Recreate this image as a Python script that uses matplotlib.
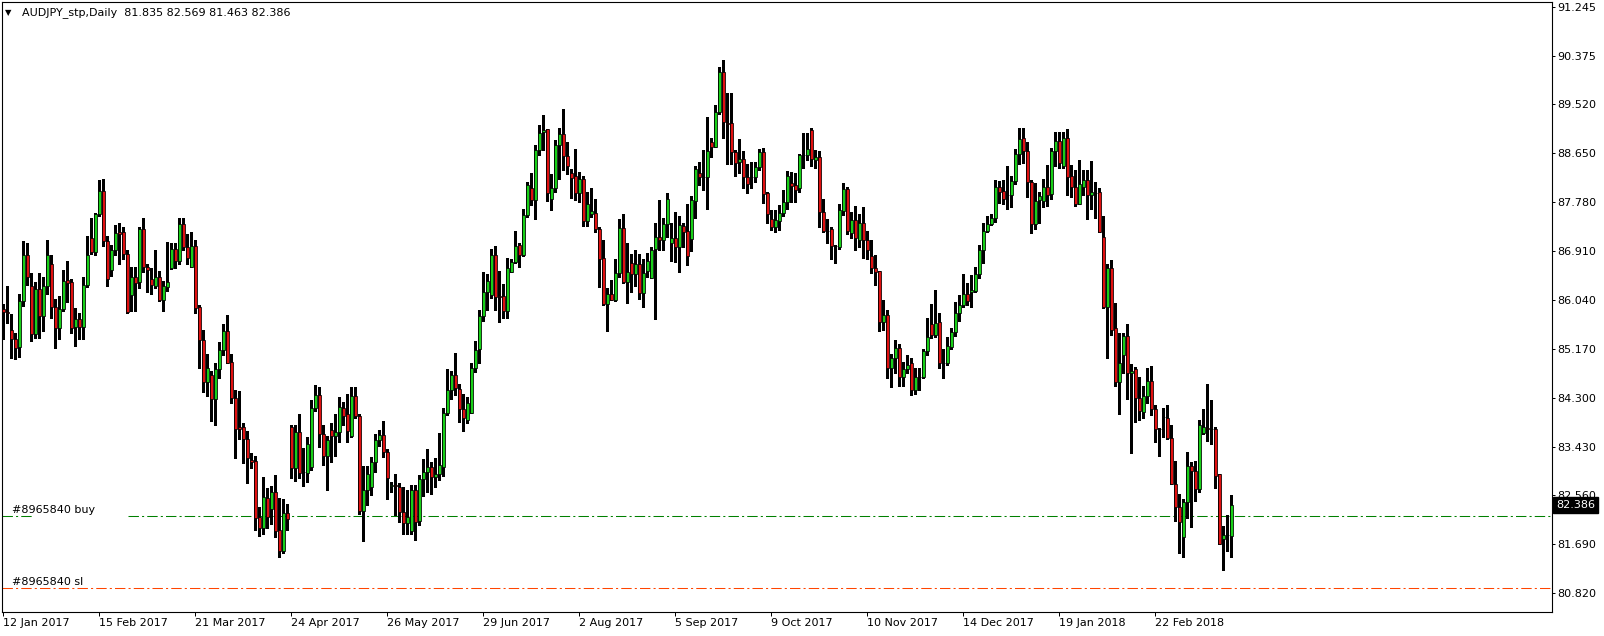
import matplotlib
matplotlib.use("Agg")
import matplotlib.pyplot as plt
import matplotlib.transforms as mtransforms
import numpy as np

plt.rcParams['font.family'] = ['DejaVu Sans']
plt.rcParams['font.size'] = 8

# Datos del gráfico (velas diarias AUDJPY)
simbolo = "AUDJPY_stp,Daily"
orden = "#8965840"

aperturas = [
    85.87, 85.82, 85.51, 85.35, 85.20, 86.01, 86.83, 86.29, 85.43, 86.23,
    85.75, 86.28, 86.68, 85.91, 85.53, 85.87, 86.39, 86.35, 85.56, 85.69,
    85.56, 86.31, 87.13, 86.88, 87.56, 87.98, 87.09, 86.56, 86.92, 87.24,
    87.24, 86.85, 86.12, 86.45, 86.35, 87.30, 86.63, 86.40, 86.29, 86.45,
    86.03, 86.26, 86.60, 86.95, 86.72, 87.38, 86.97, 86.63, 87.00, 85.91,
    85.32, 84.58, 84.70, 84.28, 84.80, 85.14, 85.49, 84.94, 84.30, 83.77,
    83.77, 83.57, 83.19, 83.18, 82.18, 81.99, 82.52, 82.32, 82.63, 81.94,
    81.57, 82.25, 83.77, 83.05, 83.68, 82.98, 82.96, 83.07, 84.12, 84.35,
    83.65, 83.26, 83.72, 83.62, 83.69, 84.12, 84.00, 83.62, 84.32, 83.98,
    82.28, 82.66, 82.71, 83.16, 83.54, 83.63, 83.34, 82.73, 82.74, 82.71,
    82.27, 82.07, 81.93, 82.65, 82.11, 82.86, 82.97, 83.06, 82.88, 82.94,
    83.07, 84.02, 84.44, 84.70, 84.46, 84.10, 83.91, 84.03, 84.82, 85.17,
    85.75, 86.17, 86.12, 86.83, 86.10, 86.10, 85.84, 86.54, 86.71, 87.01,
    86.83, 87.54, 88.02, 87.82, 88.70, 89.02, 89.07, 87.84, 88.02, 88.79,
    88.99, 88.59, 88.29, 88.24, 87.93, 88.18, 87.44, 87.57, 87.59, 87.29,
    86.79, 85.97, 86.15, 86.04, 86.52, 87.31, 86.36, 86.69, 86.50, 86.67,
    86.16, 86.55, 86.43, 86.94, 87.16, 87.10, 87.38, 87.04, 87.13, 86.98,
    87.35, 87.26, 87.12, 87.80, 88.29, 88.23, 88.22, 88.84, 88.76, 89.37,
    90.09, 89.18, 89.19, 88.67, 88.49, 88.55, 88.23, 88.22, 88.23, 88.40,
    88.66, 87.93, 87.47, 87.34, 87.44, 87.59, 87.78, 88.11, 88.08, 88.02,
    88.61, 88.62, 89.06, 88.53, 88.57, 87.60, 87.27, 87.29, 87.00, 86.98,
    87.62, 88.01, 87.22, 87.46, 87.11, 87.40, 87.11, 86.81, 86.61, 86.55,
    85.65, 85.77, 84.82, 85.01, 85.19, 84.67, 84.80, 84.92, 84.43, 84.66,
    84.67, 85.13, 85.60, 85.41, 85.64, 84.92, 84.91, 85.20, 85.46, 85.80,
    85.94, 86.15, 86.17, 86.20, 86.49, 86.92, 87.26, 87.39, 87.50, 88.04,
    87.98, 87.90, 87.90, 88.16, 88.64, 88.91, 88.68, 88.13, 87.38, 87.81,
    87.79, 88.04, 87.92, 88.68, 88.86, 88.42, 88.91, 88.24, 88.04, 87.75,
    88.05, 88.17, 87.91, 87.94, 87.95, 87.16, 85.91, 86.61, 85.53, 84.58,
    85.05, 85.39, 84.73, 84.80, 84.30, 84.05, 84.33, 84.60, 84.09, 83.75,
    83.95, 83.94, 83.59, 82.77, 82.36, 81.82, 82.45, 83.08, 82.99, 82.68,
    83.67, 83.76, 83.75, 83.75, 82.94, 81.79, 81.85, 81.835,
]
maximos = [
    85.97, 86.28, 85.78, 85.44, 86.15, 87.08, 87.05, 86.51, 86.36, 86.51,
    86.44, 87.10, 86.84, 86.05, 86.10, 86.57, 86.73, 86.41, 85.89, 85.81,
    86.45, 87.18, 87.49, 87.59, 88.17, 88.19, 87.18, 87.01, 87.36, 87.40,
    87.34, 86.92, 86.63, 86.63, 87.34, 87.49, 86.68, 86.60, 86.92, 86.55,
    86.38, 87.07, 87.04, 87.05, 87.50, 87.49, 87.21, 87.24, 87.10, 85.94,
    85.50, 85.08, 84.78, 84.91, 85.29, 85.61, 85.76, 85.07, 84.43, 84.41,
    83.85, 83.70, 83.32, 83.26, 82.36, 82.88, 82.70, 82.72, 82.93, 82.52,
    82.50, 82.41, 83.81, 83.81, 84.00, 83.41, 83.60, 84.25, 84.53, 84.49,
    83.82, 83.62, 83.84, 84.00, 84.31, 84.22, 84.37, 84.49, 84.49, 84.00,
    83.08, 83.08, 83.25, 83.66, 83.72, 83.88, 83.39, 82.80, 82.95, 82.78,
    82.71, 82.65, 82.74, 82.74, 82.93, 83.20, 83.38, 83.16, 83.23, 83.67,
    84.11, 84.81, 84.77, 85.10, 84.55, 84.36, 84.31, 84.91, 85.30, 85.85,
    86.54, 86.49, 86.94, 86.99, 86.55, 86.32, 86.79, 86.77, 87.26, 87.04,
    87.65, 88.13, 88.29, 88.79, 89.15, 89.32, 89.08, 88.27, 88.88, 89.10,
    89.43, 88.85, 88.37, 88.72, 88.32, 88.24, 87.95, 88.03, 87.84, 87.34,
    87.10, 86.24, 86.39, 86.77, 87.47, 87.56, 87.04, 86.86, 86.92, 86.86,
    86.77, 86.87, 86.98, 87.40, 87.81, 87.49, 87.93, 87.41, 87.60, 87.52,
    87.40, 87.74, 87.89, 88.42, 88.49, 88.70, 89.29, 88.91, 89.50, 90.18,
    90.31, 89.71, 89.71, 88.70, 88.89, 88.69, 88.46, 88.49, 88.49, 88.72,
    88.73, 87.96, 87.63, 87.63, 87.72, 88.00, 88.33, 88.32, 88.29, 88.64,
    89.00, 89.00, 89.09, 88.70, 88.68, 87.83, 87.47, 87.33, 87.01, 87.74,
    88.11, 88.05, 87.60, 87.71, 87.57, 87.69, 87.26, 87.10, 86.84, 86.55,
    86.03, 85.85, 85.08, 85.32, 85.26, 84.94, 85.05, 85.00, 84.82, 84.82,
    85.17, 85.71, 85.96, 86.21, 85.80, 85.17, 85.37, 85.53, 86.00, 86.12,
    86.50, 86.33, 86.48, 86.63, 87.01, 87.41, 87.52, 87.56, 88.17, 88.16,
    88.17, 88.42, 88.24, 88.72, 89.10, 89.09, 88.85, 88.17, 88.11, 87.95,
    88.18, 88.43, 88.74, 89.02, 89.03, 89.03, 89.07, 88.43, 88.35, 88.52,
    88.35, 88.35, 88.51, 88.14, 88.03, 87.53, 86.68, 86.74, 85.99, 85.44,
    85.44, 85.61, 84.89, 84.85, 84.66, 84.50, 84.82, 84.86, 84.16, 83.76,
    84.12, 84.16, 83.81, 83.17, 82.59, 82.49, 83.33, 83.16, 83.17, 83.90,
    84.10, 84.54, 84.25, 83.78, 82.95, 82.01, 82.21, 82.569,
]
minimos = [
    85.35, 85.62, 85.01, 84.99, 85.02, 85.93, 86.31, 85.31, 85.36, 85.36,
    85.49, 86.15, 85.72, 85.18, 85.34, 85.84, 86.00, 85.45, 85.22, 85.34,
    85.34, 86.27, 86.85, 86.83, 87.52, 86.99, 86.28, 86.47, 86.83, 86.68,
    86.77, 85.81, 85.84, 85.84, 86.25, 86.54, 86.18, 86.15, 86.25, 86.02,
    85.84, 86.19, 86.58, 86.61, 86.68, 86.93, 86.68, 86.62, 85.80, 84.82,
    84.40, 84.32, 83.88, 83.81, 84.65, 85.05, 84.91, 84.21, 83.22, 83.57,
    83.13, 82.78, 83.04, 81.95, 81.84, 81.88, 81.99, 82.06, 81.82, 81.47,
    81.54, 81.94, 82.87, 82.81, 82.87, 82.72, 82.80, 83.01, 84.06, 83.42,
    83.10, 82.65, 83.16, 83.26, 83.51, 83.81, 83.51, 83.60, 83.94, 82.23,
    81.75, 82.39, 82.56, 82.98, 83.44, 83.25, 82.50, 82.62, 82.21, 82.09,
    81.88, 81.88, 81.88, 81.76, 82.03, 82.55, 82.62, 82.58, 82.71, 82.83,
    82.91, 83.99, 84.28, 84.34, 83.87, 83.71, 83.85, 84.03, 84.76, 84.91,
    85.66, 85.85, 86.07, 85.85, 85.65, 85.72, 85.72, 86.54, 86.69, 86.63,
    86.82, 87.51, 87.72, 87.47, 88.61, 88.70, 87.79, 87.63, 87.96, 88.18,
    88.35, 88.27, 87.85, 87.82, 87.78, 87.35, 87.35, 87.51, 87.25, 86.27,
    85.95, 85.48, 86.03, 86.02, 86.45, 86.33, 85.99, 86.18, 86.28, 86.06,
    85.91, 86.45, 86.42, 85.69, 86.93, 86.93, 87.16, 86.73, 86.71, 86.54,
    86.98, 86.66, 86.90, 87.49, 88.08, 88.00, 87.66, 88.57, 88.76, 89.35,
    88.91, 88.46, 88.46, 88.24, 88.29, 88.02, 87.94, 88.03, 88.14, 88.35,
    87.76, 87.40, 87.28, 87.25, 87.28, 87.52, 87.65, 87.78, 87.78, 87.96,
    88.39, 88.52, 88.42, 88.39, 87.34, 87.25, 87.04, 86.77, 86.70, 86.95,
    87.55, 87.20, 87.14, 86.92, 86.97, 86.79, 86.77, 86.52, 86.30, 85.48,
    85.50, 84.64, 84.49, 84.73, 84.51, 84.51, 84.73, 84.34, 84.37, 84.43,
    84.64, 85.05, 85.36, 85.38, 84.82, 84.64, 84.88, 85.17, 85.40, 85.66,
    85.91, 85.94, 85.91, 86.17, 86.42, 86.70, 87.25, 87.37, 87.43, 87.76,
    87.75, 87.65, 87.69, 88.09, 88.45, 88.48, 87.87, 87.22, 87.29, 87.40,
    87.68, 87.71, 87.84, 88.41, 88.38, 88.38, 87.90, 87.87, 87.71, 87.75,
    87.90, 87.47, 87.65, 87.49, 87.24, 85.90, 85.00, 85.41, 84.51, 84.00,
    84.73, 84.28, 83.31, 83.86, 83.91, 83.93, 84.21, 83.99, 83.51, 83.26,
    83.60, 83.57, 82.77, 82.11, 81.54, 81.47, 82.16, 82.00, 82.47, 82.62,
    83.66, 83.53, 83.48, 82.70, 81.70, 81.24, 81.58, 81.463,
]
cierres = [
    85.82, 85.80, 85.35, 85.19, 86.01, 86.83, 86.45, 85.43, 86.23, 85.75,
    86.28, 86.83, 85.91, 85.54, 85.87, 86.38, 86.33, 85.54, 85.69, 85.56,
    86.31, 86.84, 86.88, 87.56, 87.98, 87.09, 86.41, 86.92, 87.22, 87.21,
    86.85, 85.82, 86.45, 86.33, 87.30, 86.63, 86.56, 86.31, 86.45, 86.03,
    86.28, 86.36, 86.95, 86.72, 87.38, 86.97, 86.79, 87.00, 85.90, 85.33,
    84.58, 84.83, 84.28, 84.80, 85.14, 85.49, 84.92, 84.30, 83.75, 83.75,
    83.57, 83.22, 83.16, 82.16, 81.99, 82.53, 82.18, 82.63, 81.93, 81.58,
    82.25, 82.15, 83.05, 83.68, 82.96, 82.97, 83.48, 84.12, 84.35, 83.65,
    83.26, 83.55, 83.62, 83.68, 84.14, 83.97, 83.71, 84.32, 83.97, 82.28,
    82.66, 82.95, 83.16, 83.54, 83.63, 83.33, 82.87, 82.74, 82.73, 82.27,
    82.07, 82.18, 82.65, 82.09, 82.86, 82.97, 83.06, 82.88, 82.94, 83.10,
    84.02, 84.44, 84.70, 84.47, 84.09, 83.94, 84.21, 84.82, 85.15, 85.75,
    86.17, 86.38, 86.83, 86.09, 86.09, 85.84, 86.60, 86.71, 86.99, 86.84,
    87.54, 88.08, 87.82, 88.70, 89.00, 89.06, 87.93, 88.02, 88.79, 88.99,
    88.60, 88.42, 88.21, 87.93, 88.18, 87.44, 87.75, 87.61, 87.29, 86.77,
    85.97, 86.15, 86.04, 86.52, 87.31, 86.36, 86.54, 86.50, 86.67, 86.16,
    86.52, 86.73, 86.92, 87.16, 87.10, 87.38, 87.84, 87.13, 86.98, 87.37,
    87.25, 86.82, 87.81, 88.36, 88.23, 88.22, 88.68, 88.76, 89.37, 90.09,
    89.20, 89.17, 88.67, 88.48, 88.55, 88.23, 88.09, 88.23, 88.40, 88.66,
    87.92, 87.57, 87.34, 87.46, 87.59, 87.78, 88.24, 88.07, 87.99, 88.61,
    88.61, 88.72, 88.55, 88.58, 87.60, 87.27, 87.26, 87.00, 86.99, 87.63,
    88.01, 87.27, 87.46, 87.13, 87.40, 87.10, 86.93, 86.61, 86.54, 85.65,
    85.77, 84.83, 85.01, 85.19, 84.67, 84.80, 84.88, 84.43, 84.66, 84.66,
    85.13, 85.37, 85.41, 85.62, 84.91, 84.92, 85.21, 85.46, 85.80, 85.94,
    86.15, 86.02, 86.21, 86.49, 86.92, 87.26, 87.39, 87.50, 88.04, 87.96,
    87.84, 87.90, 88.15, 88.64, 88.90, 88.68, 88.13, 87.39, 87.79, 87.88,
    88.04, 87.91, 88.68, 88.87, 88.48, 88.91, 88.22, 88.04, 87.75, 88.09,
    88.17, 87.91, 87.95, 87.94, 87.25, 85.91, 86.61, 85.51, 84.58, 84.91,
    85.39, 84.73, 84.78, 84.30, 84.06, 84.33, 84.60, 84.09, 83.75, 83.75,
    83.96, 83.58, 82.77, 82.36, 82.08, 82.45, 83.08, 82.99, 82.68, 83.81,
    83.77, 83.75, 83.74, 82.91, 81.70, 81.86, 81.85, 82.386,
]

etiquetas_fecha = ["12 Jan 2017", "15 Feb 2017", "21 Mar 2017", "24 Apr 2017",
                   "26 May 2017", "29 Jun 2017", "2 Aug 2017", "5 Sep 2017",
                   "9 Oct 2017", "10 Nov 2017", "14 Dec 2017", "19 Jan 2018",
                   "22 Feb 2018"]
barras_por_etiqueta = 24
marcas_precio = [91.245, 90.375, 89.520, 88.650, 87.780, 86.910, 86.040,
                 85.170, 84.300, 83.430, 82.560, 81.690, 80.820]
precio_buy = 82.20
precio_sl = 80.91

# Figura
W, H = 1604, 636
fig = plt.figure(figsize=(W / 100, H / 100), dpi=100)
ax = fig.add_axes([2 / W, 1 - 612 / H, 1550 / W, 610 / H])

o = np.array(aperturas)
h = np.array(maximos)
l = np.array(minimos)
c = np.array(cierres)
x = np.arange(len(c))

colores = np.where(c >= o, '#18d018', '#e01010')
ax.vlines(x, l, h, color='black', linewidth=0.8, zorder=2, antialiased=False)
ax.bar(x, np.abs(c - o), bottom=np.minimum(o, c), width=0.68, color=colores,
       edgecolor='black', linewidth=0.55, zorder=3)

ax.set_xlim(-0.325, 387.2)
ax.set_ylim(80.4875, 91.334)

# Líneas de la orden
estilo = (0, (10, 3, 2, 3))
ax.axhline(precio_buy, xmin=0, xmax=30 / 1550, color='#008000', lw=0.75, ls=estilo, zorder=1)
ax.axhline(precio_buy, xmin=126 / 1550, xmax=1, color='#008000', lw=0.75, ls=estilo, zorder=1)
ax.axhline(precio_sl, color='#ff4500', lw=0.75, ls=estilo, zorder=1)

trans = mtransforms.blended_transform_factory(ax.transAxes, ax.transData)
ax.text(10 / 1550, precio_buy + 0.02, orden + " buy", transform=trans, va='bottom', ha='left')
ax.text(10 / 1550, precio_sl + 0.03, orden + " sl", transform=trans, va='bottom', ha='left')

# Ejes
ax.yaxis.tick_right()
ax.set_yticks(marcas_precio)
ax.set_yticklabels([f"{p:.3f}" for p in marcas_precio])
ax.tick_params(axis='y', direction='out', length=2.5, width=0.72, pad=1.5, labelsize=8)

pos_fechas = np.arange(len(etiquetas_fecha)) * barras_por_etiqueta
ax.set_xticks(pos_fechas)
ax.set_xticklabels(etiquetas_fecha, ha='left')
ax.tick_params(axis='x', direction='out', length=3, width=0.72, pad=1.5, labelsize=8)

for s in ax.spines.values():
    s.set_linewidth(0.8)
    s.set_color('black')

# Etiqueta del precio actual
ax.text(1.0025, cierres[-1], f"{cierres[-1]:.3f}", transform=trans, va='center', ha='left',
        color='white', fontsize=8, zorder=10, clip_on=False,
        bbox=dict(boxstyle='square,pad=0.25', fc='black', ec='black'))

# Título
fig.text(5 / W, 1 - 13 / H, "\u25bc", fontsize=6, va='center', ha='left')
fig.text(22 / W, 1 - 13 / H,
         f"{simbolo}  {aperturas[-1]:.3f} {maximos[-1]:.3f} {minimos[-1]:.3f} {cierres[-1]:.3f}",
         fontsize=8, va='center', ha='left')

fig.savefig("out.png", dpi=100)
